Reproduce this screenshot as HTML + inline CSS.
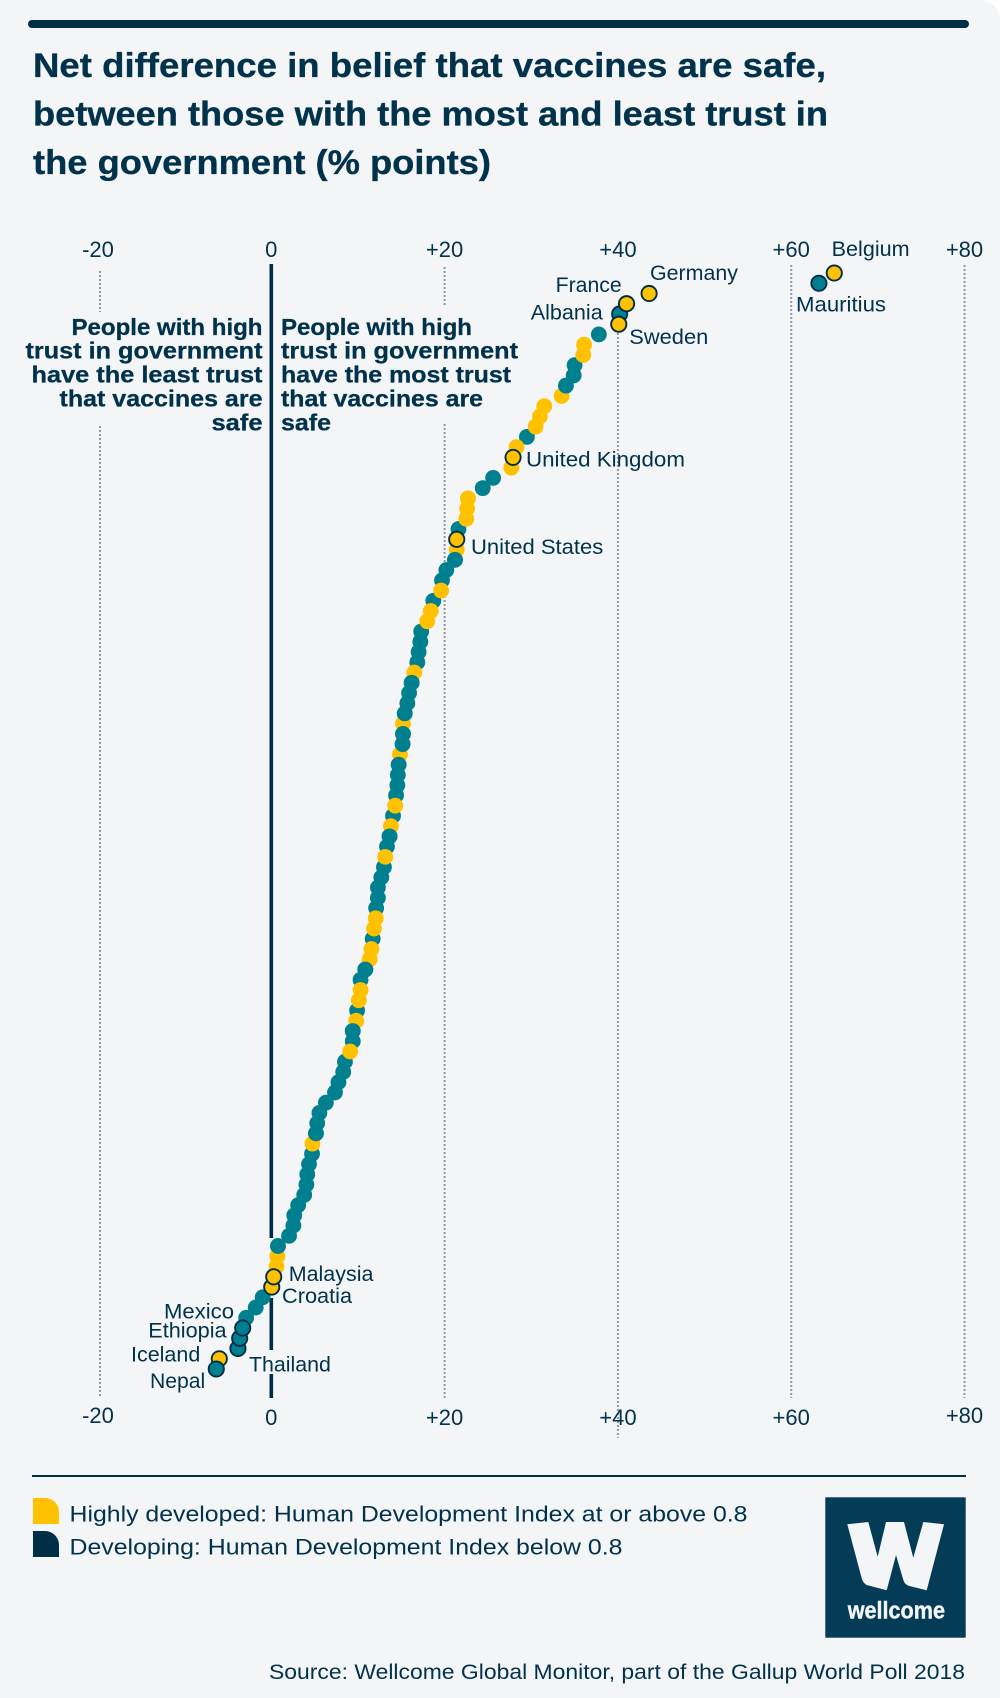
<!DOCTYPE html>
<html lang="en">
<head>
<meta charset="utf-8">
<title>Net difference in belief that vaccines are safe</title>
<style>
  html, body { margin: 0; padding: 0; background: #ffffff; }
  #panel { position: relative; width: 1000px; height: 1698px; background: #f3f5f7; border-top-right-radius: 20px; overflow: hidden; }
  svg { position: absolute; left: 0; top: 0; display: block; }
  text { font-family: "Liberation Sans", sans-serif; fill: #00324b; }
  .title { font-size: 34.5px; font-weight: 700; stroke: #00324b; stroke-width: 0.35px; }
  .note { font-size: 23.5px; font-weight: 700; stroke: #00324b; stroke-width: 0.3px; }
  .tick { font-size: 22px; text-anchor: middle; }
  .lab { font-size: 21.5px; }
  .leg { font-size: 22.5px; }
  .src { font-size: 21.5px; }
</style>
</head>
<body>
<div id="panel">
<svg id="chart" width="1000" height="1698" viewBox="0 0 1000 1698">
  <rect x="28" y="20" width="941" height="8" rx="4" fill="#002e47"/>
  <g>
    <text class="title" x="33" y="77" textLength="793" lengthAdjust="spacingAndGlyphs">Net difference in belief that vaccines are safe,</text>
    <text class="title" x="33" y="125.5" textLength="795" lengthAdjust="spacingAndGlyphs">between those with the most and least trust in</text>
    <text class="title" x="33" y="174" textLength="458" lengthAdjust="spacingAndGlyphs">the government (% points)</text>
  </g>
  <g id="grid"></g>
  <g id="zero"></g>
  <g id="ticks"></g>
  <g text-anchor="end">
    <text class="note" x="262.5" y="335" textLength="191" lengthAdjust="spacingAndGlyphs">People with high</text>
    <text class="note" x="262.5" y="358.5" textLength="237" lengthAdjust="spacingAndGlyphs">trust in government</text>
    <text class="note" x="262.5" y="382.5" textLength="231" lengthAdjust="spacingAndGlyphs">have the least trust</text>
    <text class="note" x="262.5" y="406.5" textLength="203" lengthAdjust="spacingAndGlyphs">that vaccines are</text>
    <text class="note" x="262.5" y="430.5" textLength="51" lengthAdjust="spacingAndGlyphs">safe</text>
  </g>
  <g>
    <text class="note" x="281" y="335" textLength="191" lengthAdjust="spacingAndGlyphs">People with high</text>
    <text class="note" x="281" y="358.5" textLength="237" lengthAdjust="spacingAndGlyphs">trust in government</text>
    <text class="note" x="281" y="382.5" textLength="230" lengthAdjust="spacingAndGlyphs">have the most trust</text>
    <text class="note" x="281" y="406.5" textLength="202" lengthAdjust="spacingAndGlyphs">that vaccines are</text>
    <text class="note" x="281" y="430.5" textLength="50" lengthAdjust="spacingAndGlyphs">safe</text>
  </g>
  <g id="dots"></g>
  <g id="labels"></g>

  <rect x="32" y="1475" width="934" height="2" fill="#002e47"/>
  <g>
    <path d="M33 1498 H45 A14 14 0 0 1 59 1512 V1524 H33 Z" fill="#ffc100"/>
    <text class="leg" x="69.5" y="1521.5" textLength="678" lengthAdjust="spacingAndGlyphs">Highly developed: Human Development Index at or above 0.8</text>
    <path d="M33 1531 H45 A14 14 0 0 1 59 1545 V1557 H33 Z" fill="#002e47"/>
    <text class="leg" x="69.5" y="1554.5" textLength="553" lengthAdjust="spacingAndGlyphs">Developing: Human Development Index below 0.8</text>
  </g>
  <g>
    <rect x="825.3" y="1497.3" width="140.4" height="140.4" fill="#043c58"/>
    <path d="M847.3 1524.3 L868.3 1522 L877.7 1556.7 L886 1522 L904 1522 L913.3 1557.7 L923.3 1522 L944 1524.3 L926.7 1590.3 L908.3 1585.7 Q904.5 1584 903.3 1580 L896 1555 L886.7 1590.3 L866.7 1585 Q863 1583 861.7 1578.3 Z" fill="#f3f5f7"/>
    <text x="847.7" y="1618.3" font-size="24" font-weight="700" textLength="97.3" lengthAdjust="spacingAndGlyphs" style="fill:#f3f5f7;stroke:#f3f5f7;stroke-width:0.4px">wellcome</text>
  </g>
  <text class="src" x="269" y="1679" textLength="696" lengthAdjust="spacingAndGlyphs">Source: Wellcome Global Monitor, part of the Gallup World Poll 2018</text>
</svg>
</div>
<script>
// Net difference in % points, ranked from highest to lowest.
const netDifference = [
  64.97, 63.2, 43.6, 41.0, 40.2, 40.1, 37.8, 36.1, 36.0, 35.0,
  34.9, 34.0, 33.5, 31.5, 31.0, 30.5, 29.5, 28.3, 27.9, 27.7,
  25.6, 24.4, 22.7, 22.6, 22.5, 21.6, 21.4, 21.4, 21.2, 20.2,
  19.7, 19.6, 18.7, 18.4, 18.0, 17.3, 17.2, 17.0, 16.85, 16.5,
  16.2, 15.9, 15.7, 15.4, 15.2, 15.2, 15.15, 14.85, 14.7, 14.6,
  14.55, 14.4, 14.3, 14.05, 13.8, 13.65, 13.35, 13.15, 13.0, 12.7,
  12.3, 12.3, 12.1, 12.05, 11.85, 11.7, 11.55, 11.35, 10.85, 10.3,
  10.3, 10.1, 9.9, 9.8, 9.4, 9.4, 9.1, 8.5, 8.3, 7.75,
  7.35, 6.3, 5.55, 5.3, 5.15, 4.75, 4.7, 4.35, 4.15, 4.05,
  3.8, 3.1, 2.65, 2.55, 2.05, 0.77, 0.7, 0.6, 0.28, 0.05,
  -1.0, -1.8, -2.9, -3.3, -3.65, -3.85, -6.0, -6.35
];
// H = highly developed, D = developing (same order as netDifference).
const devGroup = [
  'H','D','H','H','D','H','D','H','H','D',
  'D','D','H','H','H','H','D','H','H','H',
  'D','D','H','H','H','D','H','H','D','D',
  'D','H','D','H','H','D','D','D','D','H',
  'D','D','D','D','H','D','D','H','D','D',
  'D','D','H','D','H','D','D','H','D','D',
  'D','D','D','H','H','D','H','H','D','D',
  'H','H','D','H','D','D','H','D','D','D',
  'D','D','D','D','D','H','D','D','D','D',
  'D','D','D','D','D','D','H','H','H','H',
  'D','D','D','D','D','D','H','D'
];
const tickValues = [-20, 0, 20, 40, 60, 80];
const tickLabels = ['-20', '0', '+20', '+40', '+60', '+80'];
// Ranks of teal dots that overlap their yellow neighbours.
const tealAboveYellow = [11, 28, 40, 43, 45, 46, 48, 55, 68, 74, 84, 95];

const NS = 'http://www.w3.org/2000/svg';
const COLORS = { H: '#ffc100', D: '#00808f' };
function xScale(v) { return 271.3 + 8.665 * v; }
function yScale(rank) { return 273 + rank * (1096 / 107); }
function make(tag, parent, attrs) {
  const el = document.createElementNS(NS, tag);
  Object.keys(attrs).forEach(function (k) { el.setAttribute(k, attrs[k]); });
  parent.appendChild(el);
  return el;
}

const gridG = document.getElementById('grid');
function gridSegment(v, y1, y2) {
  const gx = xScale(v) + (v < 0 ? 2 : 0);
  const seg = make('line', gridG, { x1: gx, x2: gx, y1: y1, y2: y2, stroke: '#8a9aa7', 'stroke-width': 2, 'stroke-dasharray': '2 2' });
  
  
}
gridSegment(tickValues[0], 271, 312);
gridSegment(tickValues[0], 426, 1398);
gridSegment(tickValues[2], 267, 305);
gridSegment(tickValues[2], 424, 1398);
gridSegment(tickValues[3], 333, 1438);
gridSegment(tickValues[4], 265, 1398);
gridSegment(tickValues[5], 265, 1398);

const zeroG = document.getElementById('zero');
function zeroSegment(y1, y2) {
  const seg = make('line', zeroG, { x1: xScale(0), x2: xScale(0), y1: y1, y2: y2, stroke: '#002e47', 'stroke-width': 3.6 });
  
  
}
zeroSegment(264, 1238);
zeroSegment(1298, 1350);
zeroSegment(1374, 1398);

const ticksG = document.getElementById('ticks');
tickValues.forEach(function (v, i) {
  const top = make('text', ticksG, { class: 'tick', x: xScale(v), y: 257 });
  top.textContent = tickLabels[i];
  
  
  const bottom = make('text', ticksG, { class: 'tick', x: xScale(v), y: v === 20 || v === 40 || v === 60 || v === 0 ? 1425 : 1423 });
  bottom.textContent = tickLabels[i];
  
  
});

const dotsG = document.getElementById('dots');
function plainDot(i) {
  const d = make('circle', dotsG, { cx: xScale(netDifference[i]), cy: yScale(i), r: 7.9, fill: COLORS[devGroup[i]] });
  
  
}
const outlined = [0, 1, 2, 3, 4, 5, 18, 26, 98, 99, 103, 104, 105, 106, 107];
netDifference.forEach(function (v, i) {
  if (devGroup[i] === 'D' && outlined.indexOf(i) < 0) plainDot(i);
});
netDifference.forEach(function (v, i) {
  if (devGroup[i] === 'H' && outlined.indexOf(i) < 0) plainDot(i);
});
tealAboveYellow.forEach(plainDot);

const labelsG = document.getElementById('labels');
function labelled(i, name, dx, dy, width) {
  const cx = xScale(netDifference[i]);
  const cy = yScale(i);
  const d = make('circle', dotsG, { cx: cx, cy: cy, r: 7.6, fill: COLORS[devGroup[i]], stroke: '#002e47', 'stroke-width': 1.9 });
  
  
  const t = make('text', labelsG, { class: 'lab', x: cx + dx, y: cy + dy, textLength: width, lengthAdjust: 'spacingAndGlyphs' });
  t.textContent = name;
  
  
}
labelled(106, 'Iceland', -88.3, 2.9, 69.3);
labelled(107, 'Nepal', -66.3, 19, 55.3);
labelled(105, 'Thailand', 11, 23.2, 82);
labelled(104, 'Ethiopia', -91.4, -0.6, 78.3);
labelled(103, 'Mexico', -78.7, -9.7, 70);
labelled(99, 'Croatia', 10.3, 15.7, 70);
labelled(98, 'Malaysia', 15, 4.2, 84.7);
labelled(26, 'United States', 14.3, 14.7, 132.3);
labelled(18, 'United Kingdom', 12.9, 9.3, 159);
labelled(4, 'Albania', -88.9, 5.3, 72);
labelled(5, 'Sweden', 10.5, 19.8, 79);
labelled(3, 'France', -70.9, -11.7, 66);
labelled(2, 'Germany', 0.9, -13.5, 88);
labelled(1, 'Mauritius', -22.9, 28.5, 90);
labelled(0, 'Belgium', -2.6, -17, 78);
</script>
</body>
</html>
